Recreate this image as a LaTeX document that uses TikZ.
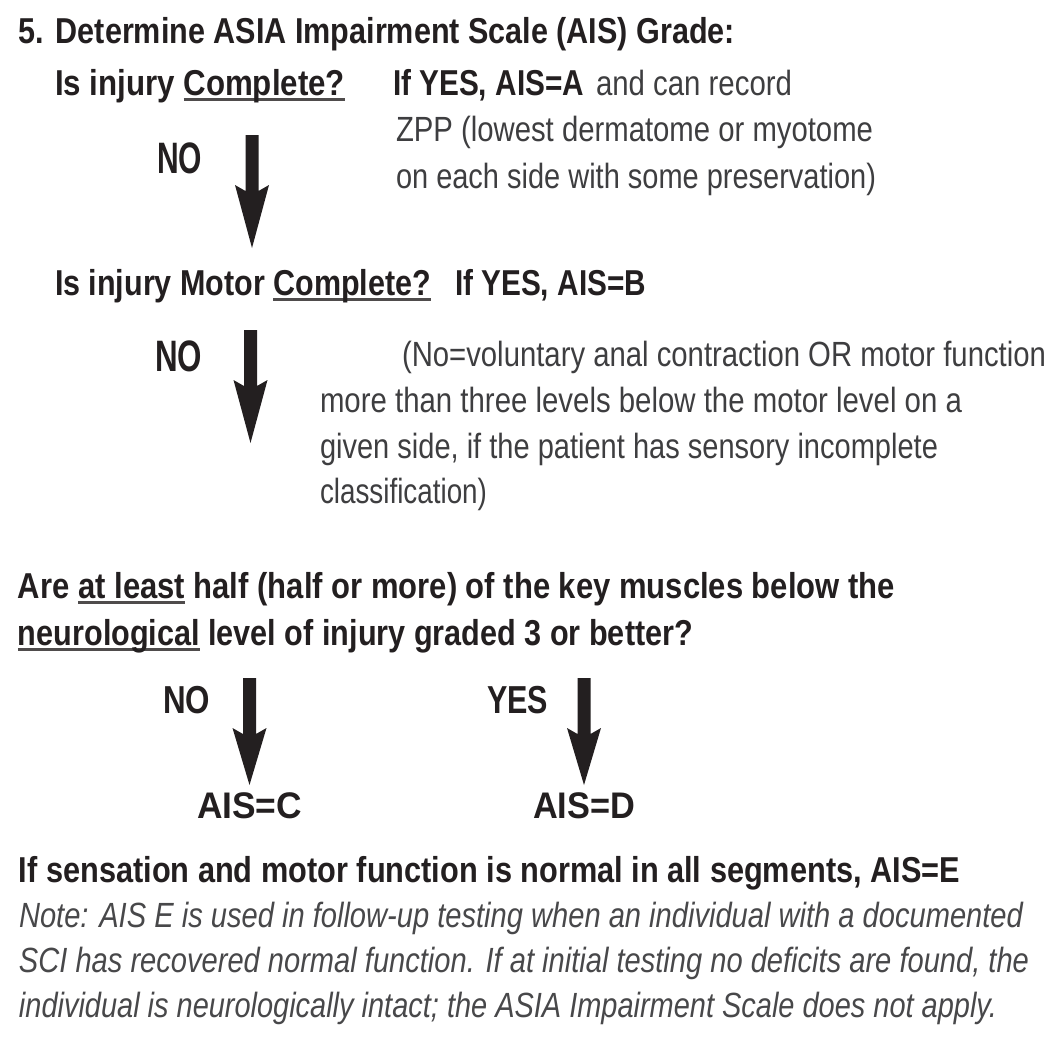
\documentclass[tikz,border=0pt]{standalone}
\usepackage{fontspec}
\setmainfont{Liberation Sans}
\usepackage{graphicx}
\usetikzlibrary{calc}
\definecolor{ink}{HTML}{231F20}
\definecolor{lightink}{HTML}{3E3E40}
\definecolor{noteink}{HTML}{48484A}
\newsavebox\ulbox
\newcommand\myul[1]{\sbox\ulbox{#1}\rlap{\textcolor{ink!80}{\rule[-5.6pt]{\wd\ulbox}{2.6pt}}}\usebox\ulbox}
\newcommand\fitto[2]{\resizebox{#1pt}{\height}{#2}}
\newcommand\bigarrow[3]{%
  \fill[ink] ($(#1)+(-6.5,0)$) -- ($(#1)+(6.5,0)$) -- ($(#2)+(6.5,-#3+6)$) -- ($(#2)+(17,-#3)$)
    -- (#2) -- ($(#2)+(-17,-#3)$) -- ($(#2)+(-6.5,-#3+6)$) -- cycle;}
\tikzset{
  txt/.style={inner sep=0pt, outer sep=0pt, anchor=base west},
  boldtxt/.style={txt, text=ink, font=\fontsize{36}{40}\selectfont\bfseries},
  lighttxt/.style={txt, text=lightink, font=\fontsize{35}{40}\selectfont},
  notetxt/.style={txt, text=noteink, font=\fontsize{35}{40}\selectfont\itshape},
  bigtxt/.style={txt, text=ink, font=\fontsize{44}{48}\selectfont\bfseries},
  midtxt/.style={txt, text=ink, font=\fontsize{39}{44}\selectfont\bfseries},
  aistxt/.style={txt, text=ink, font=\fontsize{37}{42}\selectfont\bfseries},
}
\begin{document}
\begin{tikzpicture}[x=1pt,y=-1pt]
\fill[white] (0,0) rectangle (1060,1044);
\useasboundingbox (0,0) rectangle (1060,1044);

% heading
\node[boldtxt] (t0) at (19,43) {\fitto{716}{5. Determine ASIA Impairment Scale (AIS) Grade:}};

% step 1
\node[boldtxt] (q1) at (55,95) {\fitto{290}{Is injury \myul{Complete?}}};
\node[boldtxt] (y1) at (393,95) {\fitto{191}{If YES, AIS=A}};
\node[lighttxt] (y1b) at (596,95) {\fitto{196}{and can record}};
\node[lighttxt] (z1) at (396,141) {\fitto{477}{ZPP (lowest dermatome or myotome}};
\node[lighttxt] (z2) at (396,188) {\fitto{480}{on each side with some preservation)}};
\node[bigtxt] (n1) at (157,173) {\fitto{45}{NO}};

% step 2
\node[boldtxt] (q2) at (55,295) {\fitto{376}{Is injury Motor \myul{Complete?}}};
\node[boldtxt] (y2) at (455,295) {\fitto{191}{If YES, AIS=B}};
\node[bigtxt] (n2) at (155,371) {\fitto{47}{NO}};
\node[lighttxt] (c1) at (402,366) {\fitto{644}{(No=voluntary anal contraction OR motor function}};
\node[lighttxt] (c2) at (320,412) {\fitto{642}{more than three levels below the motor level on a}};
\node[lighttxt] (c3) at (320,458) {\fitto{618}{given side, if the patient has sensory incomplete}};
\node[lighttxt] (c4) at (320,503) {\fitto{167}{classification)}};

% step 3
\node[boldtxt] (q3) at (18,598) {\fitto{877}{Are \myul{at least} half (half or more) of the key muscles below the}};
\node[boldtxt] (q3b) at (18,645) {\fitto{675}{\myul{neurological} level of injury graded 3 or better?}};
\node[midtxt] (n3) at (163,713) {\fitto{47}{NO}};
\node[midtxt] (yes) at (487,713) {\fitto{61}{YES}};
\node[aistxt] (ac) at (197,818) {\fitto{105}{AIS=C}};
\node[aistxt] (ad) at (533,818) {\fitto{102}{AIS=D}};

% AIS E
\node[boldtxt] (e1) at (19,882) {\fitto{941}{If sensation and motor function is normal in all segments, AIS=E}};
\node[notetxt] (m1) at (19,927) {\fitto{1004}{Note: AIS E is used in follow-up testing when an individual with a documented}};
\node[notetxt] (m2) at (19,972) {\fitto{1010}{SCI has recovered normal function. If at initial testing no deficits are found, the}};
\node[notetxt] (m3) at (19,1017) {\fitto{978}{individual is neurologically intact; the ASIA Impairment Scale does not apply.}};

% arrows
\coordinate (a1s) at (252,135); \coordinate (a1e) at (252,248);
\coordinate (a2s) at (250.5,330); \coordinate (a2e) at (250.5,443);
\coordinate (a3s) at (249.5,678); \coordinate (a3e) at (249.5,785);
\coordinate (a4s) at (584,678); \coordinate (a4e) at (584,785);
\bigarrow{a1s}{a1e}{63}
\bigarrow{a2s}{a2e}{63}
\bigarrow{a3s}{a3e}{57}
\bigarrow{a4s}{a4e}{57}
\end{tikzpicture}
\end{document}
